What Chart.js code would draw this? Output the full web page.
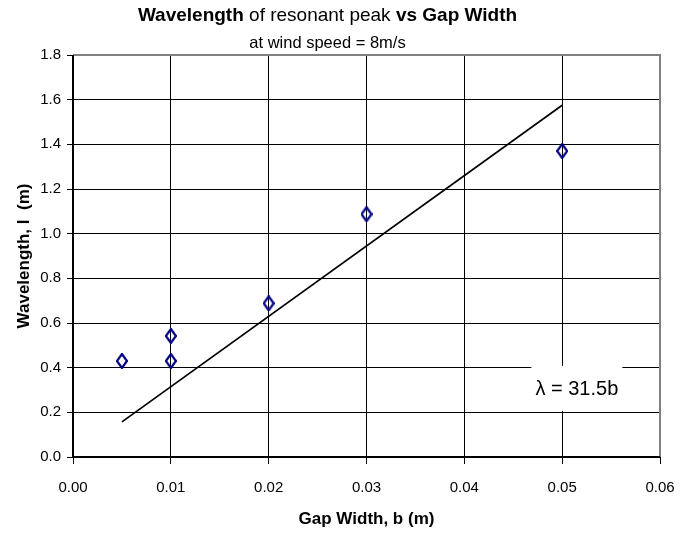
<!DOCTYPE html>
<html>
<head>
<meta charset="utf-8">
<script src="https://cdn.jsdelivr.net/npm/chart.js@4"></script>
<style>
  html, body { margin: 0; padding: 0; background: #fff; }
  #chart { display: block; }
</style>
</head>
<body>
<canvas id="chart" width="695" height="538"></canvas>
<script>
// Measured resonant peaks
const gapWidth = [0.005, 0.01, 0.01, 0.02, 0.03, 0.05];
const wavelength = [0.43, 0.43, 0.542, 0.688, 1.087, 1.37];

// Linear fit, lambda = slope * b
const fitSlope = 31.5;
const fitRange = [0.005, 0.05];

const xTicks = [0, 0.01, 0.02, 0.03, 0.04, 0.05, 0.06];
const yTicks = [0, 0.2, 0.4, 0.6, 0.8, 1.0, 1.2, 1.4, 1.6, 1.8];

const titleParts = [
    { text: 'Wavelength', bold: true },
    { text: ' of resonant peak ', bold: false },
    { text: 'vs Gap Width', bold: true }
];
const subtitleText = 'at wind speed = 8m/s';
const fitLabel = 'λ = ' + fitSlope + 'b';

const FONT = '"Liberation Sans", Arial, sans-serif';

// open diamond marker, a little taller than wide
function diamondMarker() {
    const c = document.createElement('canvas');
    c.width = 12; c.height = 16;
    const g = c.getContext('2d');
    g.strokeStyle = '#000080';
    g.lineWidth = 2.2;
    g.beginPath();
    g.moveTo(6, 1); g.lineTo(11, 8); g.lineTo(6, 15); g.lineTo(1, 8);
    g.closePath();
    g.stroke();
    return c;
}

const fitPoints = fitRange.map(b => ({ x: b, y: fitSlope * b }));

const headerPlugin = {
    id: 'header',
    afterDraw(chart) {
        const ctx = chart.ctx;
        const cx = 327.5;
        ctx.save();
        ctx.fillStyle = '#000';
        ctx.textBaseline = 'alphabetic';
        ctx.textAlign = 'left';
        const fontOf = p => (p.bold ? 'bold ' : '') + '19px ' + FONT;
        let total = 0;
        titleParts.forEach(p => { ctx.font = fontOf(p); total += ctx.measureText(p.text).width; });
        let x = cx - total / 2;
        titleParts.forEach(p => {
            ctx.font = fontOf(p);
            ctx.fillText(p.text, x, 21);
            x += ctx.measureText(p.text).width;
        });
        ctx.font = '16.5px ' + FONT;
        ctx.textAlign = 'center';
        ctx.fillText(subtitleText, cx, 48);
        ctx.restore();
    }
};

// grey frame on the top and right, black axis lines
const framePlugin = {
    id: 'frame',
    beforeDatasetsDraw(chart) {
        const { ctx, chartArea: a } = chart;
        ctx.save();
        ctx.strokeStyle = '#808080';
        ctx.lineWidth = 2;
        ctx.beginPath();
        ctx.moveTo(a.left, a.top); ctx.lineTo(a.right, a.top); ctx.lineTo(a.right, a.bottom);
        ctx.stroke();
        ctx.strokeStyle = '#000';
        ctx.lineWidth = 2;
        ctx.beginPath();
        ctx.moveTo(a.left, a.top); ctx.lineTo(a.left, a.bottom); ctx.lineTo(a.right, a.bottom);
        ctx.stroke();
        ctx.restore();
    }
};

// white text box holding the fit equation
const fitLabelPlugin = {
    id: 'fitLabel',
    afterDatasetsDraw(chart) {
        const { ctx, scales } = chart;
        const cx = scales.x.getPixelForValue(0.0515);
        const cy = scales.y.getPixelForValue(0.305);
        ctx.save();
        ctx.fillStyle = '#fff';
        ctx.fillRect(cx - 45.5, cy - 23, 91, 45);
        ctx.fillStyle = '#000';
        ctx.font = '20px ' + FONT;
        ctx.textAlign = 'center';
        ctx.textBaseline = 'middle';
        ctx.fillText(fitLabel, cx, cy + 1);
        ctx.restore();
    }
};

new Chart(document.getElementById('chart'), {
    type: 'scatter',
    data: {
        datasets: [
            {
                label: 'Measured',
                data: gapWidth.map((b, i) => ({ x: b, y: wavelength[i] })),
                pointStyle: diamondMarker(),
                pointRadius: 7,
                showLine: false
            },
            {
                label: 'Fit',
                data: fitPoints,
                showLine: true,
                borderColor: '#000',
                borderWidth: 1.7,
                pointRadius: 0,
                fill: false
            }
        ]
    },
    options: {
        responsive: false,
        animation: false,
        layout: { padding: { top: 55, right: 35, left: 0, bottom: 0 } },
        plugins: {
            legend: { display: false },
            tooltip: { enabled: false },
            title: { display: false }
        },
        scales: {
            x: {
                type: 'linear',
                min: 0, max: 0.06,
                afterBuildTicks: s => { s.ticks = xTicks.map(v => ({ value: v })); },
                afterFit: s => { s.height = 81; },
                grid: { color: '#000', lineWidth: 1, tickLength: 7, drawOnChartArea: true },
                border: { display: false },
                ticks: {
                    color: '#000',
                    font: { family: FONT, size: 15 },
                    padding: 15,
                    maxRotation: 0,
                    callback: v => v.toFixed(2)
                },
                title: {
                    display: true,
                    text: 'Gap Width, b (m)',
                    color: '#000',
                    font: { family: FONT, size: 17, weight: 'bold' },
                    padding: { top: 0, bottom: 8 }
                }
            },
            y: {
                type: 'linear',
                min: 0, max: 1.8,
                afterBuildTicks: s => { s.ticks = yTicks.map(v => ({ value: v })); },
                afterFit: s => { s.width = 73; },
                grid: { color: '#000', lineWidth: 1, tickLength: 6 },
                border: { display: false },
                ticks: {
                    color: '#000',
                    font: { family: FONT, size: 15 },
                    padding: 6,
                    callback: v => v.toFixed(1)
                },
                title: {
                    display: true,
                    text: 'Wavelength, l  (m)',
                    color: '#000',
                    font: { family: FONT, size: 17, weight: 'bold' },
                    padding: { top: 14, bottom: 0 }
                }
            }
        }
    },
    plugins: [headerPlugin, framePlugin, fitLabelPlugin]
});
</script>
</body>
</html>
